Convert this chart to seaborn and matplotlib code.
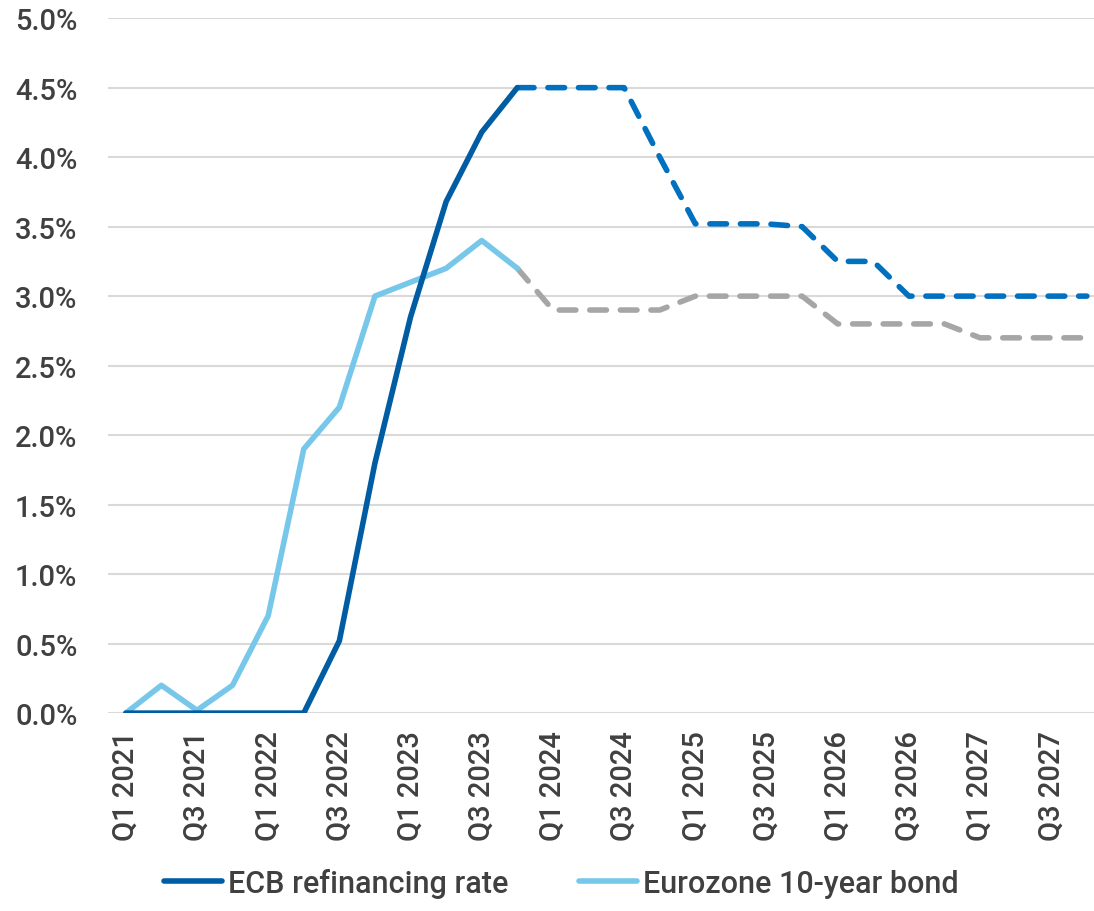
"""
ECB refinancing rate vs Eurozone 10-year bond yield, actuals and forecasts.
Run: python plot.py -> out.png
"""

import matplotlib
matplotlib.use("Agg")
import matplotlib.pyplot as plt
import pandas as pd
import seaborn as sns
from matplotlib.ticker import FuncFormatter, MultipleLocator

quarters = [f"Q{q} {y}" for y in range(2021, 2028) for q in range(1, 5)]

# values in %, one per quarter Q1 2021 .. Q4 2027
ecb_rate = [0.0, 0.0, 0.0, 0.0, 0.0, 0.0, 0.52, 1.8, 2.85, 3.68, 4.18, 4.5,
            4.5, 4.5, 4.5, 4.0, 3.52, 3.52, 3.52, 3.5, 3.25, 3.25, 3.0, 3.0,
            3.0, 3.0, 3.0, 3.0]
bond_yield = [0.0, 0.2, 0.02, 0.2, 0.7, 1.9, 2.2, 3.0, 3.1, 3.2, 3.4, 3.2,
              2.9, 2.9, 2.9, 2.9, 3.0, 3.0, 3.0, 3.0, 2.8, 2.8, 2.8, 2.8,
              2.7, 2.7, 2.7, 2.7]
last_actual = "Q4 2023"  # forecasts start here

ECB_COLOR = "#005DA3"
ECB_FC_COLOR = "#0070C0"
BOND_COLOR = "#76C7EA"
BOND_FC_COLOR = "#A6A6A6"
TEXT_COLOR = "#404040"

sns.set_theme(style="white")
plt.rcParams["font.family"] = ["Roboto", "DejaVu Sans"]
plt.rcParams["font.weight"] = "medium"

df = pd.DataFrame({"quarter": quarters, "ecb": ecb_rate, "bond": bond_yield})
df["x"] = range(len(df))
cut = quarters.index(last_actual)
actual = df.iloc[: cut + 1]
forecast = df.iloc[cut:]

fig = plt.figure(figsize=(10.94, 9.12), dpi=100)
ax = fig.add_axes([0.0987, 0.217, 0.9013, 0.762])

dash = (0, (3, 2.5))
lw = 4.0
sns.lineplot(data=forecast, x="x", y="bond", ax=ax, color=BOND_FC_COLOR, lw=lw,
             linestyle=dash, dash_capstyle="round", solid_capstyle="round")
sns.lineplot(data=forecast, x="x", y="ecb", ax=ax, color=ECB_FC_COLOR, lw=lw,
             linestyle=dash, dash_capstyle="round", solid_capstyle="round")
sns.lineplot(data=actual, x="x", y="bond", ax=ax, color=BOND_COLOR, lw=lw,
             label="Eurozone 10-year bond", solid_capstyle="round")
sns.lineplot(data=actual, x="x", y="ecb", ax=ax, color=ECB_COLOR, lw=lw,
             label="ECB refinancing rate", solid_capstyle="round")

ax.set_xlim(-0.5, 27.2)
ax.set_ylim(0, 5)
ax.yaxis.set_major_locator(MultipleLocator(0.5))
ax.yaxis.set_major_formatter(FuncFormatter(lambda v, _: f"{v:.1f}%"))
ax.set_xticks(df["x"][::2])
ax.set_xticklabels(df["quarter"][::2], rotation=90)
ax.set_xlabel("")
ax.set_ylabel("")
ax.grid(axis="y", color="#D9D9D9", lw=1.5)
ax.set_axisbelow(True)
sns.despine(ax=ax, left=True, bottom=True)
ax.tick_params(axis="both", length=0, labelsize=21, colors=TEXT_COLOR)
ax.tick_params(axis="y", pad=22)
ax.tick_params(axis="x", pad=12)

handles, labels = ax.get_legend_handles_labels()
order = [labels.index("ECB refinancing rate"), labels.index("Eurozone 10-year bond")]
ax.legend([handles[i] for i in order], [labels[i] for i in order],
          loc="lower center", bbox_to_anchor=(0.46, -0.305), ncol=2, frameon=False,
          fontsize=22, labelcolor=TEXT_COLOR, handlelength=1.9, handletextpad=0.2,
          columnspacing=2.3)

fig.savefig("out.png", dpi=100)
plt.close(fig)
